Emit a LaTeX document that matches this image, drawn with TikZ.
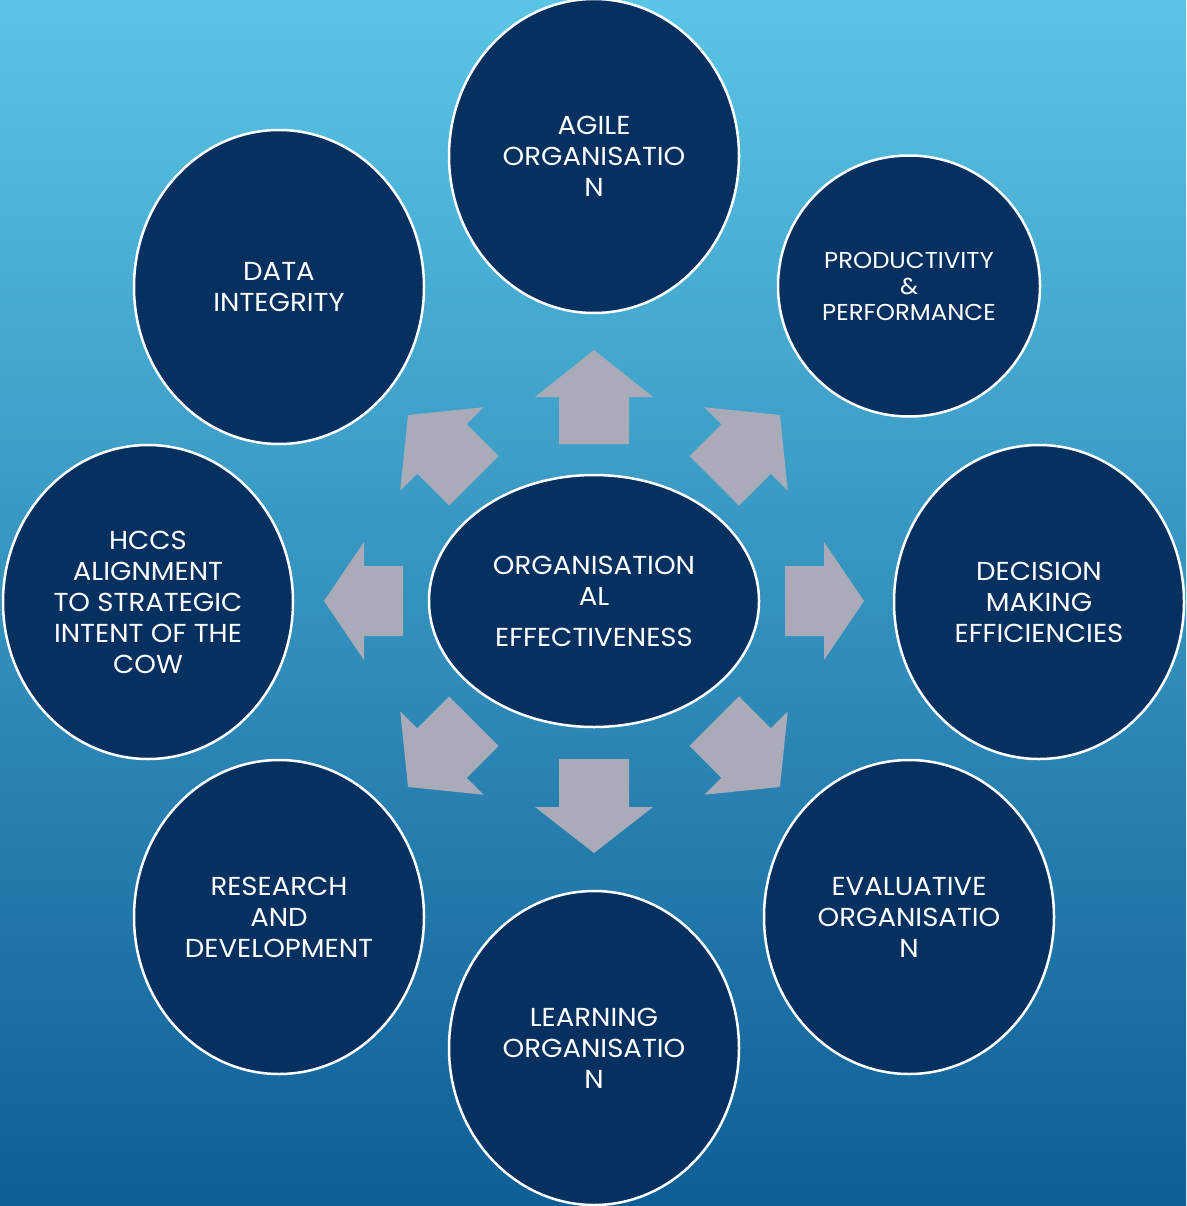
\documentclass[tikz,border=0pt]{standalone}
\usepackage{fontspec}
\setmainfont{Poppins}[FakeStretch=1.06]
\usetikzlibrary{shapes.geometric}
\definecolor{navy}{HTML}{06305F}
\definecolor{skytop}{HTML}{5AC5E5}
\definecolor{skymid}{HTML}{389BC7}
\definecolor{skybot}{HTML}{0E5E96}
\definecolor{arrowgray}{HTML}{A9ACB8}
\tikzstyle{bubble}=[ellipse,fill=navy,draw=white,line width=2.5pt,text=white,align=center,inner sep=0pt,minimum width=290pt,minimum height=314pt,font=\fontsize{26}{31}\selectfont]
\tikzstyle{block}=[fill=arrowgray]

\begin{document}
\begin{tikzpicture}[x=1pt,y=-1pt]
\shade[top color=skytop,middle color=skymid,bottom color=skybot] (0,0) rectangle (1186,1206);
\useasboundingbox (0,0) rectangle (1186,1206);
\node[bubble,minimum width=330pt,minimum height=252pt] at (594,601) (hub) {ORGANISATION\\AL\\[10pt]EFFECTIVENESS};
\node[bubble] at (594,156) (agile) {AGILE\\ORGANISATIO\\N};
\node[bubble,minimum width=262pt,minimum height=261pt,font=\fontsize{23}{26}\selectfont] at (909,286) (prod) {PRODUCTIVITY\\\&\\PERFORMANCE};
\node[bubble] at (1039,602) (decision) {DECISION\\MAKING\\EFFICIENCIES};
\node[bubble] at (909,917) (eval) {EVALUATIVE\\ORGANISATIO\\N};
\node[bubble] at (594,1048) (learning) {LEARNING\\ORGANISATIO\\N};
\node[bubble] at (279,917) (research) {RESEARCH\\AND\\DEVELOPMENT};
\node[bubble] at (148,602) (hccs) {HCCS\\ALIGNMENT\\TO STRATEGIC\\INTENT OF THE\\COW};
\node[bubble] at (279,287) (data) {DATA\\INTEGRITY};
% block arrows pointing out of the hub
\foreach \ang/\s/\b/\t in {90/157/204/251, 270/158/206/252, 0/191/230/270, 180/191/230/270, 45/170/215/263, 135/170/215/263, 225/170/215/263, 315/170/215/263}
  \fill[block,shift={(hub.center)},rotate=\ang] (\s,-35) -- (\b,-35) -- (\b,-59) -- (\t,0) -- (\b,59) -- (\b,35) -- (\s,35) -- cycle;
\end{tikzpicture}
\end{document}
